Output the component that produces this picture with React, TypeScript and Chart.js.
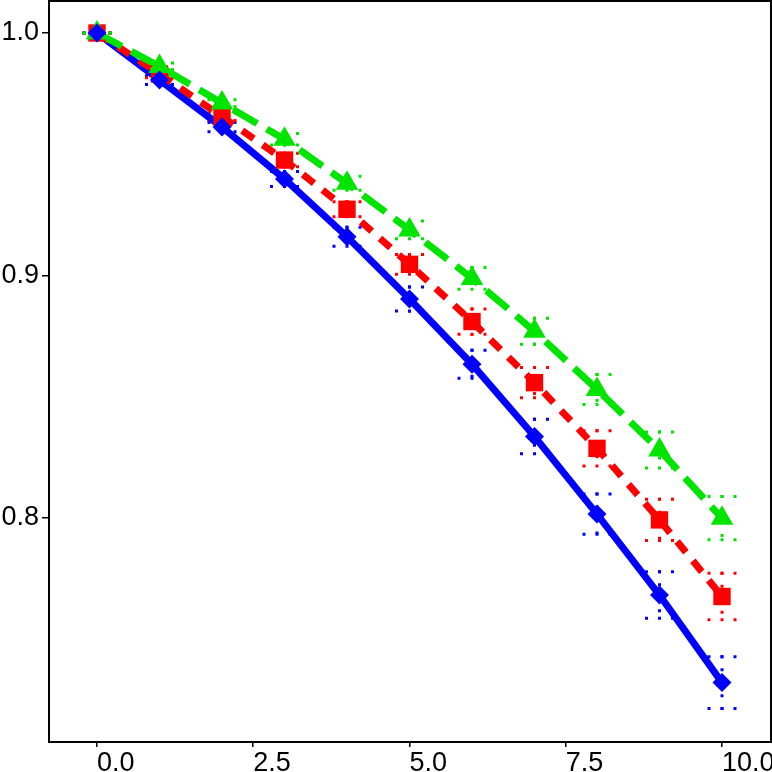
import { useEffect, useRef } from "react"
import { Chart, type ChartConfiguration, registerables } from "chart.js"

Chart.register(...registerables)

const xValues = [0, 1, 2, 3, 4, 5, 6, 7, 8, 9, 10]
const blueValues = [1.0, 0.9806, 0.9612, 0.9398, 0.916, 0.8903, 0.8634, 0.8336, 0.8016, 0.7682, 0.7321]
const redValues = [1.0, 0.9831, 0.9655, 0.9476, 0.9273, 0.9046, 0.881, 0.8558, 0.8287, 0.7992, 0.7676]
const greenValues = [1.0, 0.9862, 0.9711, 0.9562, 0.938, 0.9188, 0.8988, 0.877, 0.853, 0.828, 0.7999]
const blueErrors = [0, 0.0018, 0.0019, 0.0031, 0.0039, 0.005, 0.0058, 0.0071, 0.0083, 0.0096, 0.0107]
const redErrors = [0, 0.0016, 0.0016, 0.0028, 0.0031, 0.0041, 0.0052, 0.0062, 0.0073, 0.0085, 0.0096]
const greenErrors = [0, 0.0014, 0.0014, 0.0024, 0.0029, 0.0037, 0.0045, 0.0054, 0.0062, 0.0074, 0.0089]
const xTicks = [0, 2.5, 5, 7.5, 10]
const yTicks = [0.8, 0.9, 1.0]

const BLUE = "#0000FF"
const RED = "#FF0000"
const GREEN = "#00E400"
const FONT = { family: "'Liberation Sans', Arial, sans-serif", size: 27 }

const toPoints = (ys: number[]) => xValues.map((x, i) => ({ x, y: ys[i] }))

// dotted error bars: vertical dotted line plus dotted caps
const errorBars = {
  id: "errorBars",
  beforeDatasetsDraw(chart: Chart) {
    const { ctx, chartArea } = chart
    const xs = chart.scales.x
    const ys = chart.scales.y
    const sets = [
      { vals: blueValues, errs: blueErrors, color: BLUE },
      { vals: redValues, errs: redErrors, color: RED },
      { vals: greenValues, errs: greenErrors, color: GREEN },
    ]
    ctx.save()
    ctx.beginPath()
    ctx.rect(chartArea.left, chartArea.top, chartArea.width, chartArea.height)
    ctx.clip()
    ctx.lineWidth = 3
    ctx.lineCap = "butt"
    ctx.setLineDash([3, 10])
    for (const s of sets) {
      ctx.strokeStyle = s.color
      xValues.forEach((x, i) => {
        const px = xs.getPixelForValue(x)
        const top = ys.getPixelForValue(s.vals[i] + s.errs[i])
        const bot = ys.getPixelForValue(s.vals[i] - s.errs[i])
        ctx.beginPath()
        ctx.moveTo(px, top - 1.5)
        ctx.lineTo(px, bot + 1.5)
        ctx.stroke()
        for (const py of [top, bot]) {
          ctx.beginPath()
          ctx.moveTo(px - 14.5, py)
          ctx.lineTo(px + 14.5, py)
          ctx.stroke()
        }
      })
    }
    ctx.restore()
  },
}

const frame = {
  id: "frame",
  afterDraw(chart: Chart) {
    const { ctx, chartArea } = chart
    ctx.save()
    ctx.strokeStyle = "#000"
    ctx.lineWidth = 2
    ctx.strokeRect(chartArea.left, chartArea.top, chartArea.width, chartArea.height)
    ctx.restore()
  },
}

export default function App() {
  const chartRef = useRef<HTMLCanvasElement>(null)
  const chartInstance = useRef<Chart | null>(null)

  useEffect(() => {
    if (!chartRef.current) return
    if (chartInstance.current) chartInstance.current.destroy()
    const ctx = chartRef.current.getContext("2d")
    if (!ctx) return

    const lineSet = (data: number[], color: string, dash: number[], order: number) => ({
      data: toPoints(data),
      borderColor: color,
      borderWidth: 7,
      borderDash: dash,
      borderCapStyle: "butt" as const,
      pointRadius: 0,
      fill: false,
      tension: 0,
      order,
    })
    const pointSet = (data: number[], color: string, style: string, radius: number, order: number) => ({
      data: toPoints(data),
      showLine: false,
      pointStyle: style,
      pointRadius: radius,
      pointBackgroundColor: color,
      pointBorderColor: color,
      pointBorderWidth: 0,
      order,
    })

    const config: ChartConfiguration = {
      type: "line",
      data: {
        datasets: [
          lineSet(blueValues, BLUE, [], 6),
          lineSet(redValues, RED, [14, 11], 5),
          lineSet(greenValues, GREEN, [28, 11], 4),
          pointSet(redValues, RED, "rect", 12.3, 3),
          pointSet(greenValues, GREEN, "triangle", 13, 2),
          pointSet(blueValues, BLUE, "rectRot", 9.5, 1),
        ] as any,
      },
      options: {
        animation: false,
        responsive: true,
        maintainAspectRatio: false,
        events: [],
        layout: { autoPadding: false, padding: { top: 1, right: 1, left: 0, bottom: 0 } },
        scales: {
          x: {
            type: "linear",
            min: -0.768,
            max: 10.784,
            border: { display: false },
            grid: { drawOnChartArea: false, drawTicks: true, tickLength: 5, color: "#000", lineWidth: 1.5 },
            ticks: {
              align: "start",
              padding: 0,
              color: "#000",
              font: FONT,
              autoSkip: false,
              maxRotation: 0,
              callback: (v) => Number(v).toFixed(1),
            },
            afterBuildTicks: (s) => {
              s.ticks = xTicks.map((value) => ({ value }))
            },
            afterFit: (s) => {
              s.height = 30
              s.paddingLeft = 0
              s.paddingRight = 0
            },
          },
          y: {
            type: "linear",
            min: 0.7076,
            max: 1.0132,
            border: { display: false },
            grid: { drawOnChartArea: false, drawTicks: true, tickLength: 7, color: "#000", lineWidth: 1.5 },
            ticks: {
              padding: 3,
              color: "#000",
              font: FONT,
              autoSkip: false,
              callback: (v) => Number(v).toFixed(1),
            },
            afterBuildTicks: (s) => {
              s.ticks = yTicks.map((value) => ({ value }))
            },
            afterFit: (s) => {
              s.width = 49
              s.paddingTop = 0
              s.paddingBottom = 0
            },
          },
        },
        plugins: {
          legend: { display: false },
          tooltip: { enabled: false },
        },
      },
      plugins: [errorBars, frame],
    }

    chartInstance.current = new Chart(ctx, config)

    return () => {
      if (chartInstance.current) {
        chartInstance.current.destroy()
        chartInstance.current = null
      }
    }
  }, [])

  return (
    <div style={{ position: "absolute", left: 0, top: 0, width: 772, height: 772, background: "#fff" }}>
      <canvas ref={chartRef} />
    </div>
  )
}
